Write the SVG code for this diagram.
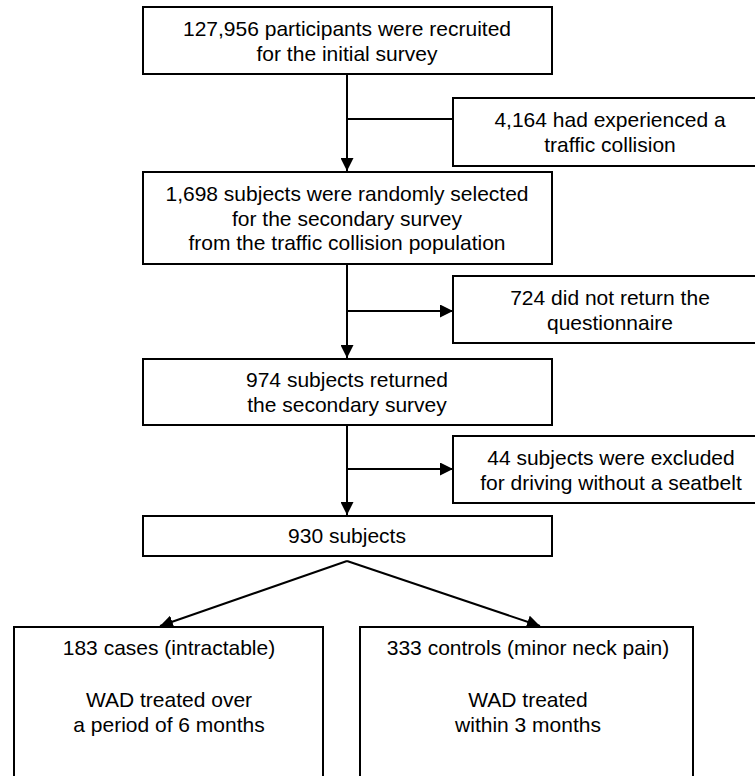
<svg xmlns="http://www.w3.org/2000/svg" width="755" height="776" viewBox="0 0 755 776">
  <style>
    .box { fill: #fff; stroke: #000; stroke-width: 2; }
    .t { font-family: "Liberation Sans", Arial, sans-serif; font-size: 21px; fill: #000; text-anchor: middle; }
    .c { stroke: #000; stroke-width: 2; fill: none; }
  </style>
  <defs>
    <marker id="ah" markerUnits="userSpaceOnUse" markerWidth="14" markerHeight="13" refX="13" refY="6.5" orient="auto">
      <path d="M0,0 L13,6.5 L0,13 Z" fill="#000"/>
    </marker>
  </defs>
  <rect width="755" height="776" fill="#fff"/>

  <g id="connectors">
    <line class="c" x1="347" y1="74" x2="347" y2="171" marker-end="url(#ah)"/>
    <line class="c" x1="347" y1="119" x2="453" y2="119"/>
    <line class="c" x1="347" y1="264" x2="347" y2="358" marker-end="url(#ah)"/>
    <line class="c" x1="347" y1="311" x2="453" y2="311" marker-end="url(#ah)"/>
    <line class="c" x1="347" y1="425" x2="347" y2="515" marker-end="url(#ah)"/>
    <line class="c" x1="347" y1="469" x2="453" y2="469" marker-end="url(#ah)"/>
    <line class="c" x1="347" y1="561" x2="160" y2="626" marker-end="url(#ah)"/>
    <line class="c" x1="347" y1="561" x2="540" y2="626" marker-end="url(#ah)"/>
  </g>

  <g id="n-recruited">
    <rect class="box" x="143" y="7" width="409" height="67"/>
    <text class="t" x="347" y="36">127,956 participants were recruited</text>
    <text class="t" x="347" y="61">for the initial survey</text>
  </g>

  <g id="n-collision">
    <rect class="box" x="453" y="98" width="310" height="68"/>
    <text class="t" x="610" y="127">4,164 had experienced a</text>
    <text class="t" x="610" y="152">traffic collision</text>
  </g>

  <g id="n-selected">
    <rect class="box" x="143" y="172" width="409" height="92"/>
    <text class="t" x="347" y="201">1,698 subjects were randomly selected</text>
    <text class="t" x="347" y="225.5">for the secondary survey</text>
    <text class="t" x="347" y="250">from the traffic collision population</text>
  </g>

  <g id="n-noreturn">
    <rect class="box" x="453" y="276" width="310" height="67"/>
    <text class="t" x="610" y="305">724 did not return the</text>
    <text class="t" x="610" y="330">questionnaire</text>
  </g>

  <g id="n-returned">
    <rect class="box" x="143" y="359" width="409" height="66"/>
    <text class="t" x="347" y="387">974 subjects returned</text>
    <text class="t" x="347" y="412">the secondary survey</text>
  </g>

  <g id="n-excluded">
    <rect class="box" x="453" y="436" width="310" height="67"/>
    <text class="t" x="611" y="465">44 subjects were excluded</text>
    <text class="t" x="611" y="490">for driving without a seatbelt</text>
  </g>

  <g id="n-930">
    <rect class="box" x="143" y="516" width="409" height="40"/>
    <text class="t" x="347" y="543">930 subjects</text>
  </g>

  <g id="n-cases">
    <rect class="box" x="14" y="627" width="309" height="160"/>
    <text class="t" x="169" y="655">183 cases (intractable)</text>
    <text class="t" x="169" y="707">WAD treated over</text>
    <text class="t" x="169" y="732">a period of 6 months</text>
  </g>

  <g id="n-controls">
    <rect class="box" x="360" y="627" width="333" height="160"/>
    <text class="t" x="528" y="655">333 controls (minor neck pain)</text>
    <text class="t" x="528" y="707">WAD treated</text>
    <text class="t" x="528" y="732">within 3 months</text>
  </g>
</svg>
